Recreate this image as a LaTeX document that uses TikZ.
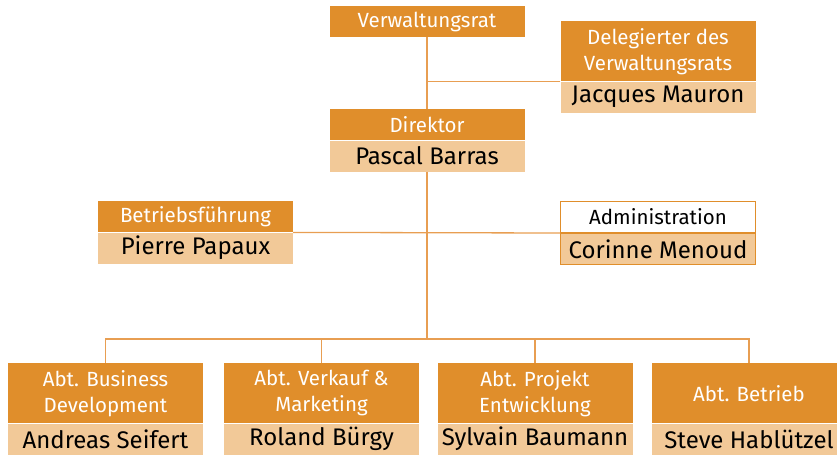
\documentclass[tikz,border=0pt]{standalone}
\usepackage{fontspec}
\setmainfont{Fira Sans}
\usetikzlibrary{positioning}
\definecolor{vrorange}{RGB}{224,142,43}
\definecolor{vrlight}{RGB}{242,201,152}
\definecolor{vrline}{RGB}{232,158,82}
\tikzset{
    header/.style={
        rectangle, fill=vrorange, text=white,
        minimum width=195pt, minimum height=31pt,
        inner sep=0pt, align=center, anchor=north,
        font=\fontsize{20.5}{26}\selectfont
    },
    twoline/.style={minimum height=60pt},
    person/.style={
        rectangle, fill=vrlight, text=black,
        minimum width=195pt, minimum height=31pt,
        inner sep=0pt, font=\fontsize{24}{26}\selectfont
    },
    framed/.style={draw=vrorange, line width=1pt},
    link/.style={draw=vrline, line width=1.3pt}
}

\begin{document}
\begin{tikzpicture}[x=1pt, y=-1pt]
\useasboundingbox (0,0) rectangle (837,455);

% Top: board and delegate
\node[header] (vr) at (427,6) {Verwaltungsrat};
\node[header, twoline] (del) at (658,21) {Delegierter des\\Verwaltungsrats};
\node[person, below=0pt of del] (delname) {Jacques Mauron};

% Director
\node[header] (dir) at (427,109) {Direktor};
\node[person, below=0pt of dir] (dirname) {Pascal Barras};

% Staff level
\node[header] (bf) at (195.5,201) {Betriebsführung};
\node[person, below=0pt of bf] (bfname) {Pierre Papaux};
\node[header, framed, fill=white, text=black] (adm) at (658,201) {Administration};
\node[person, framed, below=0pt of adm] (admname) {Corinne Menoud};

% Departments
\node[header, twoline] (d1) at (105.5,363) {Abt. Business\\Development};
\node[header, twoline] (d2) at (321.5,363) {Abt. Verkauf \&\\Marketing};
\node[header, twoline] (d3) at (535,363) {Abt. Projekt\\Entwicklung};
\node[header, twoline] (d4) at (749,363) {Abt. Betrieb};
\node[person, below=0pt of d1] (d1name) {Andreas Seifert};
\node[person, below=0pt of d2] (d2name) {Roland Bürgy};
\node[person, below=0pt of d3] (d3name) {Sylvain Baumann};
\node[person, below=0pt of d4] (d4name) {Steve Hablützel};

% Connections
\coordinate (bus) at (427,339);
\draw[link] (vr) -- (dir);
\draw[link] (del.south west) -- (del.south west -| vr.south);
\draw[link] (bf.south east) -- (adm.south west);
\draw[link] (dirname) -- (bus);
\draw[link] (d1.north) |- (bus) -| (d4.north);
\draw[link] (d2.north) -- (d2.north |- bus);
\draw[link] (d3.north) -- (d3.north |- bus);

\end{tikzpicture}
\end{document}
